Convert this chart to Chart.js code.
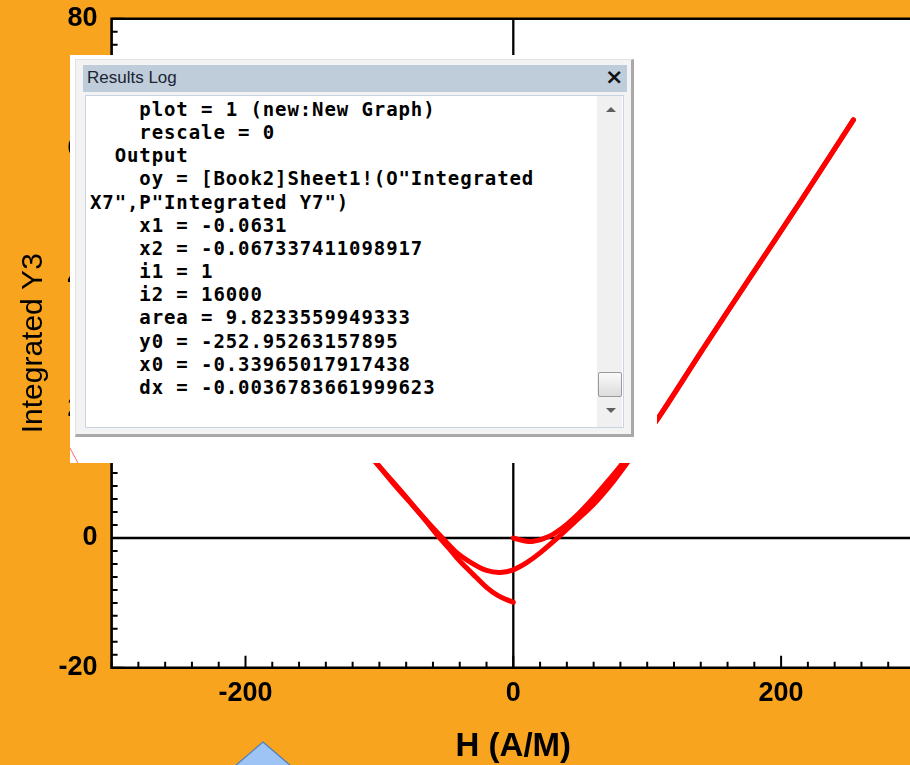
<!DOCTYPE html>
<html>
<head>
<meta charset="utf-8">
<script src="https://cdn.jsdelivr.net/npm/chart.js@4/dist/chart.umd.min.js"></script>
<style>
html,body{margin:0;padding:0;width:910px;height:765px;overflow:hidden;background:#F8A41F;}
#wrap{position:absolute;left:0;top:0;width:940px;height:765px;}
#ov{position:absolute;left:70px;top:55px;width:587px;height:408px;background:#fff;}
#win{position:absolute;left:75px;top:59px;width:555px;height:374px;background:#f3f3f3;border:1px solid #e2e2e2;border-right:3px solid #a9a9a9;border-bottom:3px solid #a9a9a9;box-sizing:content-box;}
#tbar{position:absolute;left:83px;top:65px;width:544px;height:27px;background:#BFCDDB;}
#ttl{position:absolute;left:87px;top:67px;font-family:"Liberation Sans",Arial,sans-serif;font-size:17px;color:#1c2433;line-height:22px;}
#cls{position:absolute;left:605px;top:63px;font-family:"DejaVu Sans",sans-serif;font-weight:bold;font-size:22px;color:#111;line-height:28px;}
#txt{position:absolute;left:85px;top:95px;width:537px;height:331px;background:#fff;border:1px solid #c9d3e3;}
#sb{position:absolute;left:597px;top:96px;width:25px;height:331px;background:#f0f0f0;}
#thumb{position:absolute;left:598px;top:372px;width:22px;height:23px;background:linear-gradient(#fafafa,#dcdcdc);border:1px solid #9a9a9a;border-radius:2px;}
.arr{position:absolute;left:606px;width:0;height:0;border-left:5px solid transparent;border-right:5px solid transparent;}
#up{top:107px;border-bottom:5px solid #606060;}
#dn{top:408px;border-top:5px solid #606060;}
#log{position:absolute;left:90px;top:98px;margin:0;font-family:"DejaVu Sans Mono",monospace;font-weight:bold;font-size:19px;letter-spacing:0.9px;line-height:23.15px;color:#000;white-space:pre;}
#deco{position:absolute;left:0;top:0;}
</style>
</head>
<body>
<div id="wrap"><canvas id="c" width="940" height="765" style="width:940px;height:765px"></canvas></div>
<div id="ov"></div>
<svg id="deco" width="910" height="765"><line x1="70" y1="448" x2="78" y2="463" stroke="#ff3030" stroke-width="1" opacity="0.7"/><polygon points="263,742 291,766 263,790 235,766" fill="#9EC4F6" stroke="#4F81BD" stroke-width="1.3"/></svg>
<div id="win"></div>
<div id="tbar"></div>
<div id="ttl">Results Log</div>
<div id="cls">×</div>
<div id="txt"></div>
<div id="sb"></div>
<div class="arr" id="up"></div>
<div class="arr" id="dn"></div>
<div id="thumb"></div>
<pre id="log">    plot = 1 (new:New Graph)
    rescale = 0
  Output
    oy = [Book2]Sheet1!(O"Integrated
X7",P"Integrated Y7")
    x1 = -0.0631
    x2 = -0.067337411098917
    i1 = 1
    i2 = 16000
    area = 9.8233559949333
    y0 = -252.95263157895
    x0 = -0.33965017917438
    dx = -0.0036783661999623</pre>
<script>
// ---- data ----
const initH = [0, 5, 10, 15, 20, 25, 30, 40, 50, 60, 70, 80, 90, 108, 140, 177, 215, 254];
const initY = [0, -0.3, -0.5, -0.5, -0.3, 0.1, 0.6, 2.1, 4.0, 6.2, 8.6, 11.1, 13.8, 18.4, 28.6, 40.2, 52.0, 64.4];
const descH = [254, 215, 177, 140, 108, 90, 75, 60, 45, 33, 20, 10, 0, -10, -20, -30, -42, -52, -62, -75, -90, -102, -120, -150];
const descY = [64.4, 52.0, 40.2, 28.6, 18.4, 13.0, 8.8, 5.2, 2.3, 0, -2.3, -3.8, -4.9, -5.3, -5.0, -4.0, -2.3, -0.2, 2.0, 5.0, 8.5, 11.5, 16.0, 24.0];
const retH = [-150, -120, -102, -80, -62, -55, -48, -42, -35, -28, -20, -12, -5, 0];
const retY = [24.0, 16.0, 11.5, 6.3, 1.8, 0, -1.6, -3.1, -4.6, -6.0, -7.6, -8.8, -9.5, -9.9];
const xTickValues = [-200, 0, 200];
const yTickValues = [-20, 0, 20, 40, 60, 80];
const xTitle = 'H (A/M)';
const yTitle = 'Integrated Y3';

const pts = (hs, ys) => hs.map((h, i) => ({x: h, y: ys[i]}));
const lineStyle = {showLine: true, borderColor: '#FF0000', backgroundColor: '#FF0000', borderWidth: 5,
  pointRadius: 0, tension: 0.3, borderCapStyle: 'round', borderJoinStyle: 'round'};

const axesPlugin = {
  id: 'axesPlugin',
  beforeDraw(chart) {
    const {ctx, chartArea: a} = chart;
    ctx.save();
    ctx.fillStyle = '#FFFFFF';
    ctx.fillRect(a.left, a.top, a.right - a.left + 30, a.bottom - a.top);
    ctx.restore();
  },
  beforeDatasetsDraw(chart) {
    const {ctx, chartArea: a, scales: {x, y}} = chart;
    ctx.save();
    ctx.strokeStyle = '#000'; ctx.lineWidth = 2.3;
    const x0 = x.getPixelForValue(0), y0 = y.getPixelForValue(0);
    ctx.beginPath();
    ctx.moveTo(x0, a.top); ctx.lineTo(x0, a.bottom);
    ctx.moveTo(a.left, y0); ctx.lineTo(a.right, y0);
    ctx.stroke();
    ctx.restore();
  },
  afterDatasetsDraw(chart) {
    const {ctx, chartArea: a, scales: {x, y}} = chart;
    ctx.save();
    ctx.strokeStyle = '#000';
    ctx.lineWidth = 2;
    ctx.beginPath();
    for (let v = x.min; v <= x.max; v += 20) {
      const p = x.getPixelForValue(v);
      const len = (v % 200 === 0) ? 12 : 6;
      ctx.moveTo(p, a.bottom); ctx.lineTo(p, a.bottom - len);
    }
    for (let v = y.min; v <= y.max; v += 2) {
      const p = y.getPixelForValue(v);
      const len = (v % 20 === 0) ? 12 : 6;
      ctx.moveTo(a.left, p); ctx.lineTo(a.left + len, p);
    }
    ctx.stroke();
    ctx.lineWidth = 2.6;
    ctx.beginPath();
    ctx.moveTo(a.right + 5, a.top); ctx.lineTo(a.left, a.top); ctx.lineTo(a.left, a.bottom); ctx.lineTo(a.right + 5, a.bottom);
    ctx.stroke();
    ctx.restore();
  }
};

new Chart(document.getElementById('c'), {
  type: 'scatter',
  data: {datasets: [
    Object.assign({data: pts(initH, initY)}, lineStyle),
    Object.assign({data: pts(descH, descY)}, lineStyle),
    Object.assign({data: pts(retH, retY)}, lineStyle)
  ]},
  options: {
    responsive: false, animation: false, devicePixelRatio: 1,
    layout: {padding: {top: 18.7, right: 25, left: 0, bottom: 0}},
    plugins: {legend: {display: false}, tooltip: {enabled: false}},
    scales: {
      x: {type: 'linear', position: 'bottom', min: -300, max: 300,
        afterBuildTicks: s => { s.ticks = xTickValues.map(v => ({value: v})); },
        afterFit: s => { s.height = 97.2; s.paddingLeft = 0; s.paddingRight = 0; },
        grid: {display: false, drawTicks: false}, border: {display: false},
        ticks: {color: '#000', padding: 9.6, font: {family: '"Liberation Sans", Arial, sans-serif', size: 27, weight: 'bold'}},
        title: {display: true, text: xTitle, color: '#000', padding: {top: 0, bottom: 1.9},
          font: {family: '"Liberation Sans", Arial, sans-serif', size: 33, weight: 'bold', lineHeight: 1}}
      },
      y: {type: 'linear', position: 'left', min: -20, max: 80,
        afterBuildTicks: s => { s.ticks = yTickValues.map(v => ({value: v})); },
        afterFit: s => { s.width = 111.6; s.paddingTop = 0; s.paddingBottom = 0; },
        grid: {display: false, drawTicks: false}, border: {display: false},
        ticks: {color: '#000', padding: 14, font: {family: '"Liberation Sans", Arial, sans-serif', size: 27, weight: 'bold'}},
        title: {display: true, text: yTitle, color: '#000', padding: {top: 15.6, bottom: 0},
          font: {family: '"Liberation Sans", Arial, sans-serif', size: 30, weight: 'normal', lineHeight: 1.2}}
      }
    }
  },
  plugins: [axesPlugin]
});
</script>
</body>
</html>
